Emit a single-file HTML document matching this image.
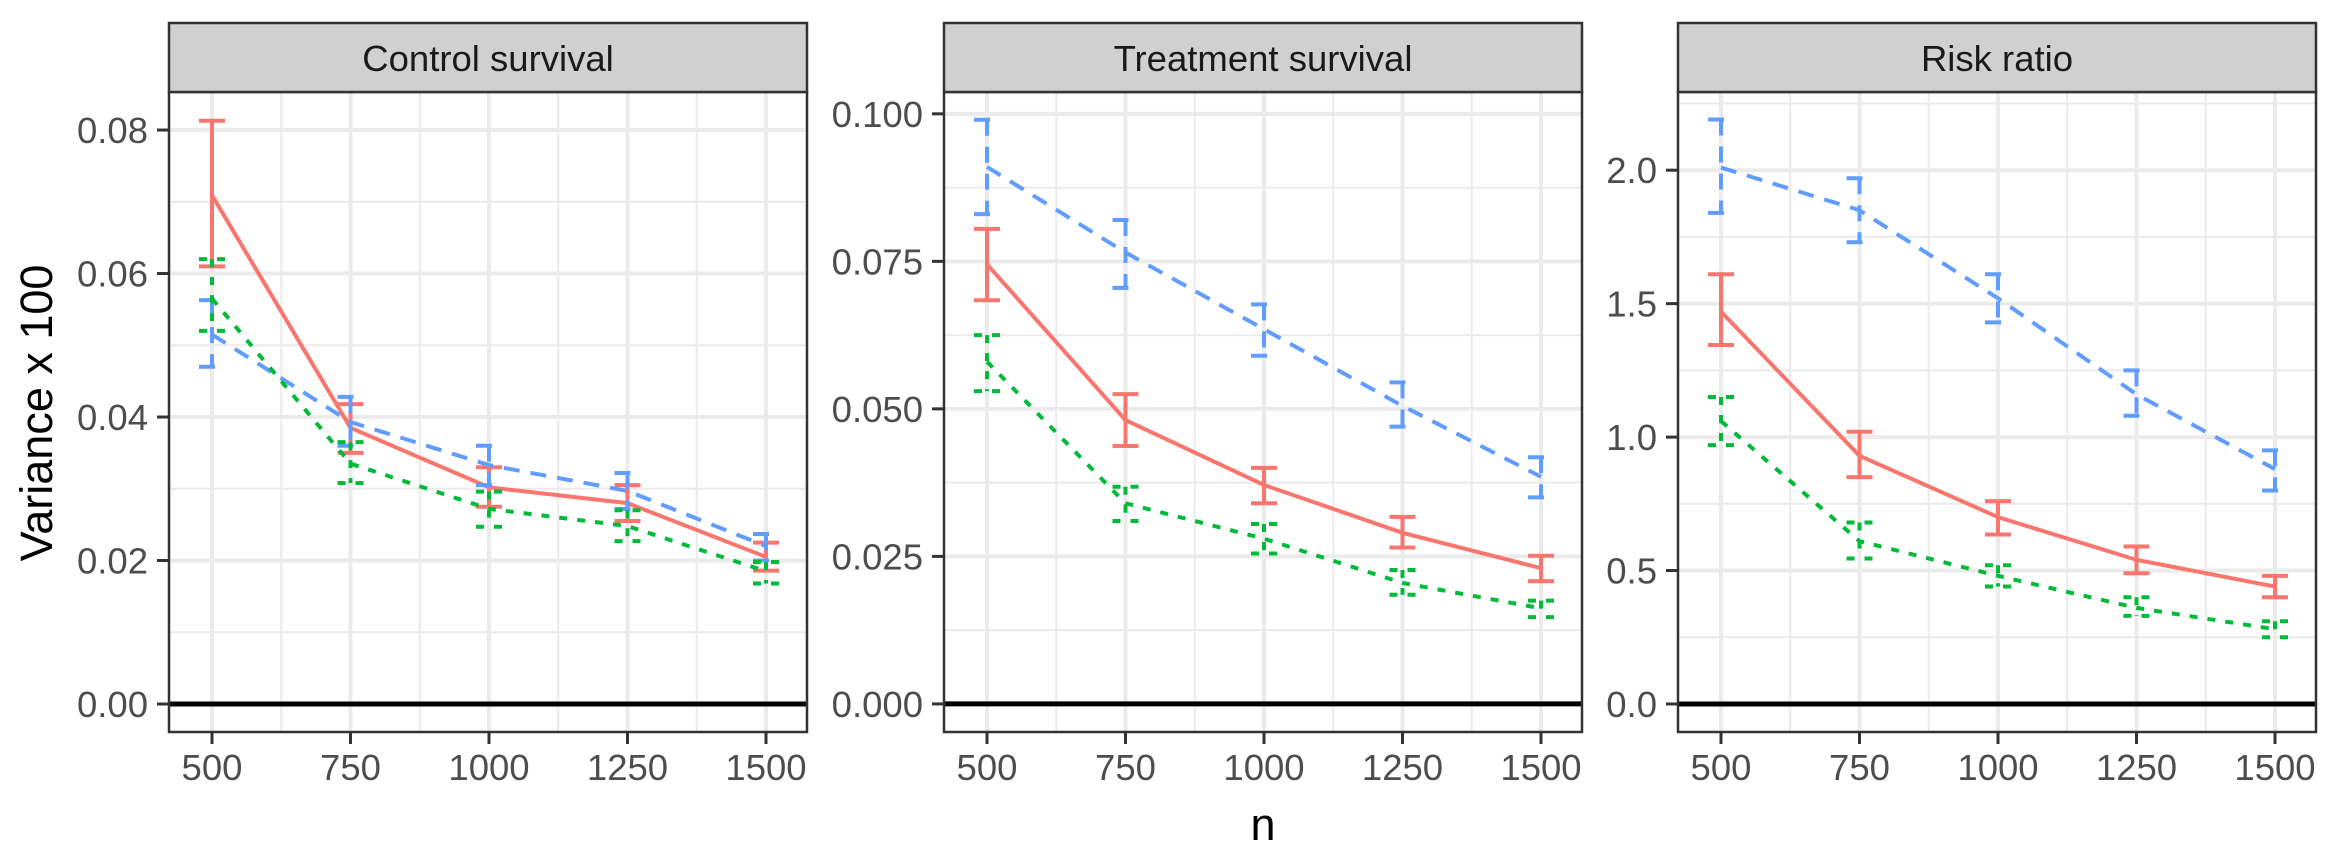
<!DOCTYPE html>
<html><head><meta charset="utf-8"><style>
html,body{margin:0;padding:0;background:#fff;}
svg{display:block;font-family:"Liberation Sans",Arial,sans-serif;}
</style></head><body>
<svg id="chart" width="2340" height="864" viewBox="0 0 2340 864" xmlns="http://www.w3.org/2000/svg">
<text x="0" y="0" transform="translate(52,413) rotate(-90)" text-anchor="middle" font-size="45" fill="#000">Variance x 100</text>
<text x="1263" y="840" text-anchor="middle" font-size="45" fill="#000">n</text>
</svg>
<script>
const nValues = [500, 750, 1000, 1250, 1500];
const panelTitles = ["Control survival", "Treatment survival", "Risk ratio"];
// Control survival
const ctrlRed = [0.0709, 0.0385, 0.0302, 0.0280, 0.0205];
const ctrlRedLo = [0.0610, 0.0350, 0.0275, 0.0255, 0.0186];
const ctrlRedHi = [0.0813, 0.0418, 0.0330, 0.0305, 0.0225];
const ctrlBlue = [0.0515, 0.0393, 0.0333, 0.0297, 0.0220];
const ctrlBlueLo = [0.0470, 0.0360, 0.0305, 0.0272, 0.0200];
const ctrlBlueHi = [0.0563, 0.0428, 0.0360, 0.0322, 0.0237];
const ctrlGreen = [0.0565, 0.0335, 0.0272, 0.0248, 0.0185];
const ctrlGreenLo = [0.0520, 0.0308, 0.0247, 0.0227, 0.0168];
const ctrlGreenHi = [0.0620, 0.0365, 0.0296, 0.0270, 0.0198];
// Treatment survival
const trtRed = [0.0745, 0.0481, 0.0371, 0.0290, 0.0230];
const trtRedLo = [0.0684, 0.0437, 0.0340, 0.0265, 0.0208];
const trtRedHi = [0.0805, 0.0525, 0.0400, 0.0317, 0.0251];
const trtBlue = [0.0910, 0.0765, 0.0635, 0.0505, 0.0385];
const trtBlueLo = [0.0830, 0.0705, 0.0590, 0.0470, 0.0350];
const trtBlueHi = [0.0990, 0.0820, 0.0677, 0.0545, 0.0418];
const trtGreen = [0.0580, 0.0340, 0.0280, 0.0205, 0.0162];
const trtGreenLo = [0.0530, 0.0310, 0.0255, 0.0185, 0.0147];
const trtGreenHi = [0.0625, 0.0368, 0.0305, 0.0227, 0.0175];
// Risk ratio
const rrRed = [1.47, 0.93, 0.70, 0.54, 0.44];
const rrRedLo = [1.345, 0.85, 0.635, 0.49, 0.40];
const rrRedHi = [1.61, 1.02, 0.76, 0.59, 0.48];
const rrBlue = [2.01, 1.85, 1.52, 1.16, 0.88];
const rrBlueLo = [1.84, 1.73, 1.43, 1.08, 0.80];
const rrBlueHi = [2.19, 1.97, 1.61, 1.25, 0.95];
const rrGreen = [1.06, 0.61, 0.48, 0.36, 0.28];
const rrGreenLo = [0.97, 0.545, 0.44, 0.33, 0.25];
const rrGreenHi = [1.15, 0.68, 0.52, 0.40, 0.31];
// Axis ticks
const ctrlTicks = [0, 0.02, 0.04, 0.06, 0.08];
const ctrlTickLabels = ["0.00", "0.02", "0.04", "0.06", "0.08"];
const trtTicks = [0, 0.025, 0.05, 0.075, 0.1];
const trtTickLabels = ["0.000", "0.025", "0.050", "0.075", "0.100"];
const rrTicks = [0, 0.5, 1, 1.5, 2];
const rrTickLabels = ["0.0", "0.5", "1.0", "1.5", "2.0"];
const xTickLabels = ["500", "750", "1000", "1250", "1500"];
const xMinor = [625, 875, 1125, 1375];

const NS = "http://www.w3.org/2000/svg";
const svg = document.getElementById("chart");
function mk(tag, attrs, parent) {
  const e = document.createElementNS(NS, tag);
  for (const k in attrs) e.setAttribute(k, attrs[k]);
  (parent || svg).appendChild(e);
  return e;
}
const panels = [
  {left:169, yMin:-0.0039, yMax:0.0853, ticks:ctrlTicks, labels:ctrlTickLabels, step:0.01,
   series:[[ctrlRed,ctrlRedLo,ctrlRedHi],[ctrlBlue,ctrlBlueLo,ctrlBlueHi],[ctrlGreen,ctrlGreenLo,ctrlGreenHi]]},
  {left:944, yMin:-0.00476, yMax:0.1037, ticks:trtTicks, labels:trtTickLabels, step:0.0125,
   series:[[trtRed,trtRedLo,trtRedHi],[trtBlue,trtBlueLo,trtBlueHi],[trtGreen,trtGreenLo,trtGreenHi]]},
  {left:1678, yMin:-0.105, yMax:2.293, ticks:rrTicks, labels:rrTickLabels, step:0.25,
   series:[[rrRed,rrRedLo,rrRedHi],[rrBlue,rrBlueLo,rrBlueHi],[rrGreen,rrGreenLo,rrGreenHi]]}
];
const styles = [
  {color:"#F8766D", dash:"none", name:"red"},
  {color:"#619CFF", dash:"16,11", name:"blue"},
  {color:"#00BA38", dash:"8,10", name:"green"}
];
const W = 638, TOP = 92, BOT = 732, STRIP_TOP = 23;
panels.forEach((p, pi) => {
  const g = mk("g", {});
  
  
  const xs = v => p.left + 43 + (v - 500) / 1000 * 554;
  const ys = v => BOT - (v - p.yMin) / (p.yMax - p.yMin) * (BOT - TOP);
  // minor horizontal grid
  for (let v = p.step; v < p.yMax; v += p.step * 2) {
    const l = mk("line", {x1:p.left, x2:p.left+W, y1:ys(v), y2:ys(v), stroke:"#EBEBEB", "stroke-width":2}, g);
    
    
  }
  xMinor.forEach(v => {
    const l = mk("line", {x1:xs(v), x2:xs(v), y1:TOP, y2:BOT, stroke:"#EBEBEB", "stroke-width":2}, g);
    
    
  });
  p.ticks.forEach((v, i) => {
    const l = mk("line", {x1:p.left, x2:p.left+W, y1:ys(v), y2:ys(v), stroke:"#EBEBEB", "stroke-width":4}, g);
    
    
    const t = mk("line", {x1:p.left-12, x2:p.left, y1:ys(v), y2:ys(v), stroke:"#333", "stroke-width":3}, g);
    
    
    const tx = mk("text", {x:p.left-21, y:ys(v)+13, "text-anchor":"end", "font-size":36.5, fill:"#4D4D4D"}, g);
    
    
    tx.textContent = p.labels[i];
  });
  nValues.forEach((v, i) => {
    const l = mk("line", {x1:xs(v), x2:xs(v), y1:TOP, y2:BOT, stroke:"#EBEBEB", "stroke-width":4}, g);
    
    
    const t = mk("line", {x1:xs(v), x2:xs(v), y1:BOT, y2:BOT+12, stroke:"#333", "stroke-width":3}, g);
    
    
    const tx = mk("text", {x:xs(v), y:BOT+48, "text-anchor":"middle", "font-size":36.5, fill:"#4D4D4D"}, g);
    
    
    tx.textContent = xTickLabels[i];
  });
  // zero line
  const z = mk("line", {x1:p.left, x2:p.left+W, y1:ys(0), y2:ys(0), stroke:"#000", "stroke-width":5}, g);
  
  
  // series
  p.series.forEach((s, si) => {
    const st = styles[si];
    const [mid, lo, hi] = s;
    nValues.forEach((v, i) => {
      const x = xs(v);
      const eb = mk("path", {d:`M${x-13},${ys(hi[i])}H${x+13}M${x},${ys(hi[i])}V${ys(lo[i])}M${x-13},${ys(lo[i])}H${x+13}`,
        fill:"none", stroke:st.color, "stroke-width":4, "stroke-dasharray":st.dash}, g);
      
      
    });
    const pts = nValues.map((v, i) => xs(v) + "," + ys(mid[i])).join(" ");
    const pl = mk("polyline", {points:pts, fill:"none", stroke:st.color, "stroke-width":4, "stroke-dasharray":st.dash}, g);
    
    
  });
  const border = mk("rect", {x:p.left, y:TOP, width:W, height:BOT-TOP, fill:"none", stroke:"#333", "stroke-width":2.5}, g);
  
  
  const strip = mk("rect", {x:p.left, y:STRIP_TOP, width:W, height:TOP-STRIP_TOP, fill:"#D0D0D0", stroke:"#333", "stroke-width":2.5}, g);
  
  
  const stx = mk("text", {x:p.left+W/2, y:71, "text-anchor":"middle", "font-size":36.5, fill:"#1A1A1A"}, g);
  
  
  stx.textContent = panelTitles[pi];
});
</script>
</body></html>
